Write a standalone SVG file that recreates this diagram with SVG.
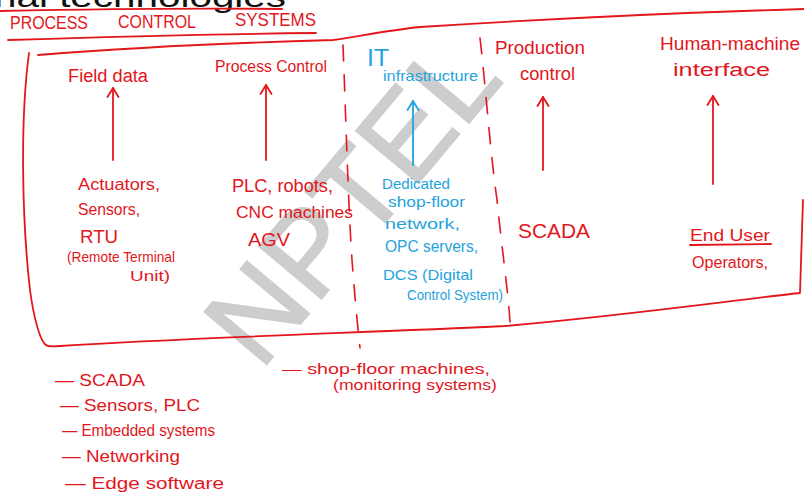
<svg xmlns="http://www.w3.org/2000/svg" width="804" height="498" viewBox="0 0 804 498">
<defs>
<style>
.r{fill:#e3161c;font-family:"Liberation Sans",Arial,sans-serif;}
.b{fill:#1fa3dc;font-family:"Liberation Sans",Arial,sans-serif;}
.ln{fill:none;stroke:#e3161c;stroke-width:1.8;stroke-linecap:round;stroke-linejoin:round;}
.lb{fill:none;stroke:#1fa3dc;stroke-width:1.8;stroke-linecap:round;}
.dash{fill:none;stroke:#e3161c;stroke-width:1.6;stroke-dasharray:16 14;stroke-linecap:round;}
</style>
<marker id="ar" viewBox="0 0 14 14" refX="12" refY="7" markerWidth="14" markerHeight="14" markerUnits="userSpaceOnUse" orient="auto">
<path d="M3,1.5 L12,7 L3,12.5" fill="none" stroke="#e3161c" stroke-width="1.8" stroke-linecap="round" stroke-linejoin="round"/>
</marker>
<marker id="ab" viewBox="0 0 14 14" refX="12" refY="7" markerWidth="14" markerHeight="14" markerUnits="userSpaceOnUse" orient="auto">
<path d="M3,1.5 L12,7 L3,12.5" fill="none" stroke="#1fa3dc" stroke-width="1.8" stroke-linecap="round" stroke-linejoin="round"/>
</marker>
</defs>
<rect width="804" height="498" fill="#ffffff"/>

<!-- watermark -->
<text x="352" y="240" transform="rotate(-50 352 200)" text-anchor="middle" font-family="Liberation Sans,Arial,sans-serif" font-size="118" fill="#cdcdcd" stroke="#cdcdcd" stroke-width="2">NPTEL</text>

<!-- cut-off heading -->
<g id="heading">
<text x="-6" y="7" font-family="Liberation Sans,Arial,sans-serif" font-size="30" fill="#111" textLength="292" lengthAdjust="spacingAndGlyphs">nal technologies</text>
<path class="ln" d="M0,11 C100,9 200,8 282,9"/>
<text class="r" x="10" y="29" font-size="19" textLength="78" lengthAdjust="spacingAndGlyphs">PROCESS</text>
<text class="r" x="118" y="28" font-size="18" textLength="78" lengthAdjust="spacingAndGlyphs">CONTROL</text>
<text class="r" x="235" y="26" font-size="18" textLength="81" lengthAdjust="spacingAndGlyphs">SYSTEMS</text>
<path class="ln" d="M8,40 C100,37 220,34 316,33"/>
</g>

<!-- frame -->
<g id="frame">
<path class="ln" d="M38,55 C150,46 260,42 333,40 C360,36 390,30 420,27 C560,18 700,12 804,9"/>
<path class="ln" d="M29,53 C20,120 22,220 30,290 C34,320 40,338 44,343 C46,347 52,347 60,346 C200,337 360,333 505,326 C620,316 720,302 800,293 L803,200"/>
<path class="dash" d="M343,45 C346,120 348,200 352,260 C355,300 358,330 360,348"/>
<path class="dash" d="M480,38 C486,90 490,150 497,200 C502,250 508,290 510,322"/>
</g>

<g id="connectors">
<line class="ln" x1="113" y1="160" x2="113" y2="88" marker-end="url(#ar)"/>
<line class="ln" x1="266" y1="160" x2="266" y2="85" marker-end="url(#ar)"/>
<line class="lb" x1="413" y1="165" x2="413" y2="101" marker-end="url(#ab)"/>
<line class="ln" x1="543" y1="170" x2="543" y2="97" marker-end="url(#ar)"/>
<line class="ln" x1="713" y1="184" x2="713" y2="96" marker-end="url(#ar)"/>
</g>

<g id="field">
<text class="r" x="68" y="82" font-size="18" textLength="80" lengthAdjust="spacingAndGlyphs">Field data</text>
<text class="r" x="78" y="190" font-size="17" textLength="82" lengthAdjust="spacingAndGlyphs">Actuators,</text>
<text class="r" x="78" y="215" font-size="17" textLength="62" lengthAdjust="spacingAndGlyphs">Sensors,</text>
<text class="r" x="80" y="243" font-size="18" textLength="38" lengthAdjust="spacingAndGlyphs">RTU</text>
<text class="r" x="67" y="262" font-size="15" textLength="108" lengthAdjust="spacingAndGlyphs">(Remote Terminal</text>
<text class="r" x="130" y="281" font-size="15" textLength="40" lengthAdjust="spacingAndGlyphs">Unit)</text>
</g>

<g id="process">
<text class="r" x="215" y="72" font-size="16" textLength="112" lengthAdjust="spacingAndGlyphs">Process Control</text>
<text class="r" x="232" y="192" font-size="18" textLength="101" lengthAdjust="spacingAndGlyphs">PLC, robots,</text>
<text class="r" x="236" y="218" font-size="16" textLength="117" lengthAdjust="spacingAndGlyphs">CNC machines</text>
<text class="r" x="248" y="246" font-size="19" textLength="42" lengthAdjust="spacingAndGlyphs">AGV</text>
</g>

<g id="it">
<text class="b" x="367" y="66" font-size="24" textLength="22" lengthAdjust="spacingAndGlyphs">IT</text>
<text class="b" x="383" y="81" font-size="15" textLength="95" lengthAdjust="spacingAndGlyphs">infrastructure</text>
<text class="b" x="382" y="189" font-size="15" textLength="68" lengthAdjust="spacingAndGlyphs">Dedicated</text>
<text class="b" x="388" y="207" font-size="15" textLength="77" lengthAdjust="spacingAndGlyphs">shop-floor</text>
<text class="b" x="385" y="229" font-size="15" textLength="75" lengthAdjust="spacingAndGlyphs">network,</text>
<text class="b" x="385" y="252" font-size="17" textLength="93" lengthAdjust="spacingAndGlyphs">OPC servers,</text>
<text class="b" x="383" y="280" font-size="15" textLength="90" lengthAdjust="spacingAndGlyphs">DCS (Digital</text>
<text class="b" x="407" y="300" font-size="14" textLength="96" lengthAdjust="spacingAndGlyphs">Control System)</text>
</g>

<g id="production">
<text class="r" x="495" y="54" font-size="18" textLength="90" lengthAdjust="spacingAndGlyphs">Production</text>
<text class="r" x="520" y="80" font-size="18" textLength="55" lengthAdjust="spacingAndGlyphs">control</text>
<text class="r" x="518" y="238" font-size="20" textLength="72" lengthAdjust="spacingAndGlyphs">SCADA</text>
</g>

<g id="hmi">
<text class="r" x="660" y="50" font-size="18" textLength="140" lengthAdjust="spacingAndGlyphs">Human-machine</text>
<text class="r" x="673" y="76" font-size="18" textLength="97" lengthAdjust="spacingAndGlyphs">interface</text>
<text class="r" x="690" y="241" font-size="16" textLength="80" lengthAdjust="spacingAndGlyphs">End User</text>
<path class="ln" d="M690,245 L771,244"/>
<text class="r" x="692" y="268" font-size="16" textLength="76" lengthAdjust="spacingAndGlyphs">Operators,</text>
</g>

<g id="list">
<text class="r" x="55" y="386" font-size="17" textLength="90" lengthAdjust="spacingAndGlyphs">— SCADA</text>
<text class="r" x="60" y="411" font-size="17" textLength="140" lengthAdjust="spacingAndGlyphs">—  Sensors, PLC</text>
<text class="r" x="62" y="436" font-size="16" textLength="153" lengthAdjust="spacingAndGlyphs">—  Embedded systems</text>
<text class="r" x="62" y="462" font-size="16" textLength="118" lengthAdjust="spacingAndGlyphs">—  Networking</text>
<text class="r" x="65" y="489" font-size="16" textLength="159" lengthAdjust="spacingAndGlyphs">—   Edge software</text>
</g>

<g id="shopfloor">
<text class="r" x="282" y="374" font-size="15" textLength="208" lengthAdjust="spacingAndGlyphs">— shop-floor machines,</text>
<text class="r" x="333" y="390" font-size="15" textLength="164" lengthAdjust="spacingAndGlyphs">(monitoring systems)</text>
</g>
</svg>
